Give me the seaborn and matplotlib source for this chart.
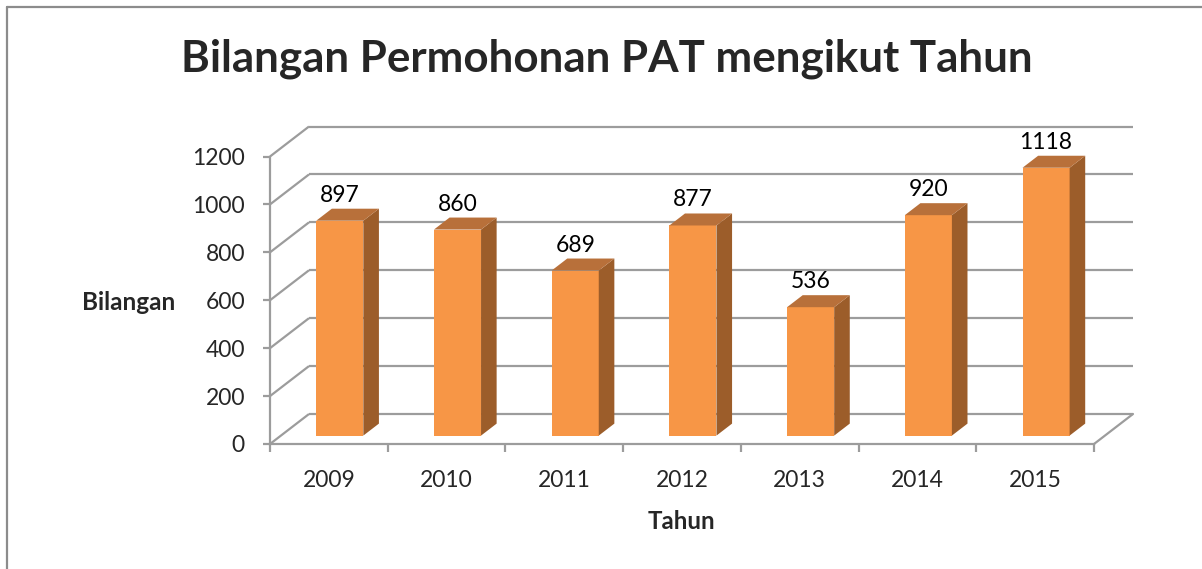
import numpy as np
import pandas as pd
import matplotlib
matplotlib.use("Agg")
import matplotlib.pyplot as plt
import matplotlib.transforms as mtransforms
from matplotlib.patches import Polygon
from matplotlib.lines import Line2D
import seaborn as sns

# ---------------- data ----------------
years = ["2009", "2010", "2011", "2012", "2013", "2014", "2015"]
counts = [897, 860, 689, 877, 536, 920, 1118]
y_ticks = [0, 200, 400, 600, 800, 1000, 1200]
title = "Bilangan Permohonan PAT mengikut Tahun"
x_label = "Tahun"
y_label = "Bilangan"

# ---------------- style ----------------
FRONT = "#F79646"
SIDE = "#9C5D2A"
TOP = "#B8703A"
GRID = "#9c9c9c"
FRAME = "#8c8c8c"

W, H = 1202, 569
sns.set_style("white")
plt.rcParams["font.family"] = ["Lato", "DejaVu Sans"]

fig = plt.figure(figsize=(W / 100, H / 100), dpi=100)
fig.patch.set_facecolor("white")

# front plane of the 3D box, in pixels
L, R, B0, T0 = 270, 1094, 444, 156.5
ax = fig.add_axes([L / W, (H - B0) / H, (R - L) / W, (B0 - T0) / H])
ax.set_facecolor("none")

df = pd.DataFrame({"Tahun": years, "Bilangan": counts})
sns.barplot(data=df, x="Tahun", y="Bilangan", color=FRONT, width=0.40,
            saturation=1, ax=ax, zorder=3, edgecolor="none")

n = len(years)
ax.set_xlim(-0.5, n - 0.5)
ax.set_ylim(0, 1200)

px_x = (R - L) / n          # pixels per category unit
px_y = (B0 - T0) / 1200.0   # pixels per value unit
DX = 39 / px_x              # full depth, data units
DY = 30 / px_y
f0, fb = 0.28, 0.40         # bar depth start / bar depth size
ox, oy = f0 * DX, f0 * DY
bdx, bdy = fb * DX, fb * DY

# back wall / side wall grid lines
for v in y_ticks:
    ax.add_line(Line2D([-0.5, -0.5 + DX], [v, v + DY], color=GRID, lw=1.6,
                       clip_on=False, zorder=1, solid_capstyle="butt"))
    ax.add_line(Line2D([-0.5 + DX, n - 0.5 + DX], [v + DY, v + DY], color=GRID,
                       lw=1.6, clip_on=False, zorder=1, solid_capstyle="butt"))
# floor right edge
ax.add_line(Line2D([n - 0.5, n - 0.5 + DX], [0, DY], color=GRID, lw=1.6,
                   clip_on=False, zorder=1))

# shift front faces into depth and add side / top faces
shift = mtransforms.Affine2D().translate(ox, oy) + ax.transData
for p, v in zip(ax.patches, counts):
    p.set_transform(shift)
    p.set_clip_on(False)
    x0 = p.get_x() + ox
    w = p.get_width()
    h = p.get_height()
    y0 = oy
    side = Polygon([(x0 + w, y0), (x0 + w + bdx, y0 + bdy),
                    (x0 + w + bdx, y0 + h + bdy), (x0 + w, y0 + h)],
                   closed=True, facecolor=SIDE, edgecolor="none",
                   zorder=3, clip_on=False)
    top = Polygon([(x0, y0 + h), (x0 + w, y0 + h),
                   (x0 + w + bdx, y0 + h + bdy), (x0 + bdx, y0 + h + bdy)],
                  closed=True, facecolor=TOP, edgecolor="none",
                  zorder=3, clip_on=False)
    ax.add_patch(side)
    ax.add_patch(top)
    ax.text(x0 + w / 2, y0 + h + bdy + 7 / px_y, str(v), ha="center",
            va="baseline", fontsize=16.5, color="black", zorder=5,
            clip_on=False)

# axes styling
for s in ["top", "right"]:
    ax.spines[s].set_visible(False)
for s in ["left", "bottom"]:
    ax.spines[s].set_color(GRID)
    ax.spines[s].set_linewidth(1.6)
    ax.spines[s].set_zorder(2)

ax.set_yticks(y_ticks)
ax.set_yticklabels([str(t) for t in y_ticks])
ax.tick_params(axis="y", direction="out", length=5, width=1.6, color=GRID,
               pad=13, labelsize=16.5, left=True)
ax.set_xticks(np.arange(n + 1) - 0.5)
ax.set_xticklabels([""] * (n + 1))
ax.set_xticks(np.arange(n), minor=True)
ax.set_xticklabels(years, minor=True)
ax.tick_params(axis="x", which="major", direction="out", length=6, width=1.6,
               color=GRID, bottom=True)
ax.tick_params(axis="x", which="minor", length=0, pad=19, labelsize=16.5)
ax.set_xlabel("")
ax.set_ylabel("")
ax.grid(False)

# titles
fig.text(606.5 / W, 1 - 71.7 / H, title, ha="center", va="baseline",
         fontsize=31.6, fontweight="bold")
fig.text(128.3 / W, 1 - 310 / H, y_label, ha="center", va="baseline",
         fontsize=17.5, fontweight="bold")
fig.text(681.7 / W, 1 - 529.3 / H, x_label, ha="center", va="baseline",
         fontsize=17.3, fontweight="bold")

# outer frame (left and top edges)
fig.add_artist(Line2D([6.5 / W, 6.5 / W], [0, 1 - 6.5 / H], color=FRAME,
                      lw=1.6, transform=fig.transFigure))
fig.add_artist(Line2D([6.5 / W, 1], [1 - 6.5 / H, 1 - 6.5 / H], color=FRAME,
                      lw=1.6, transform=fig.transFigure))

fig.savefig("out.png", dpi=100, facecolor="white")
